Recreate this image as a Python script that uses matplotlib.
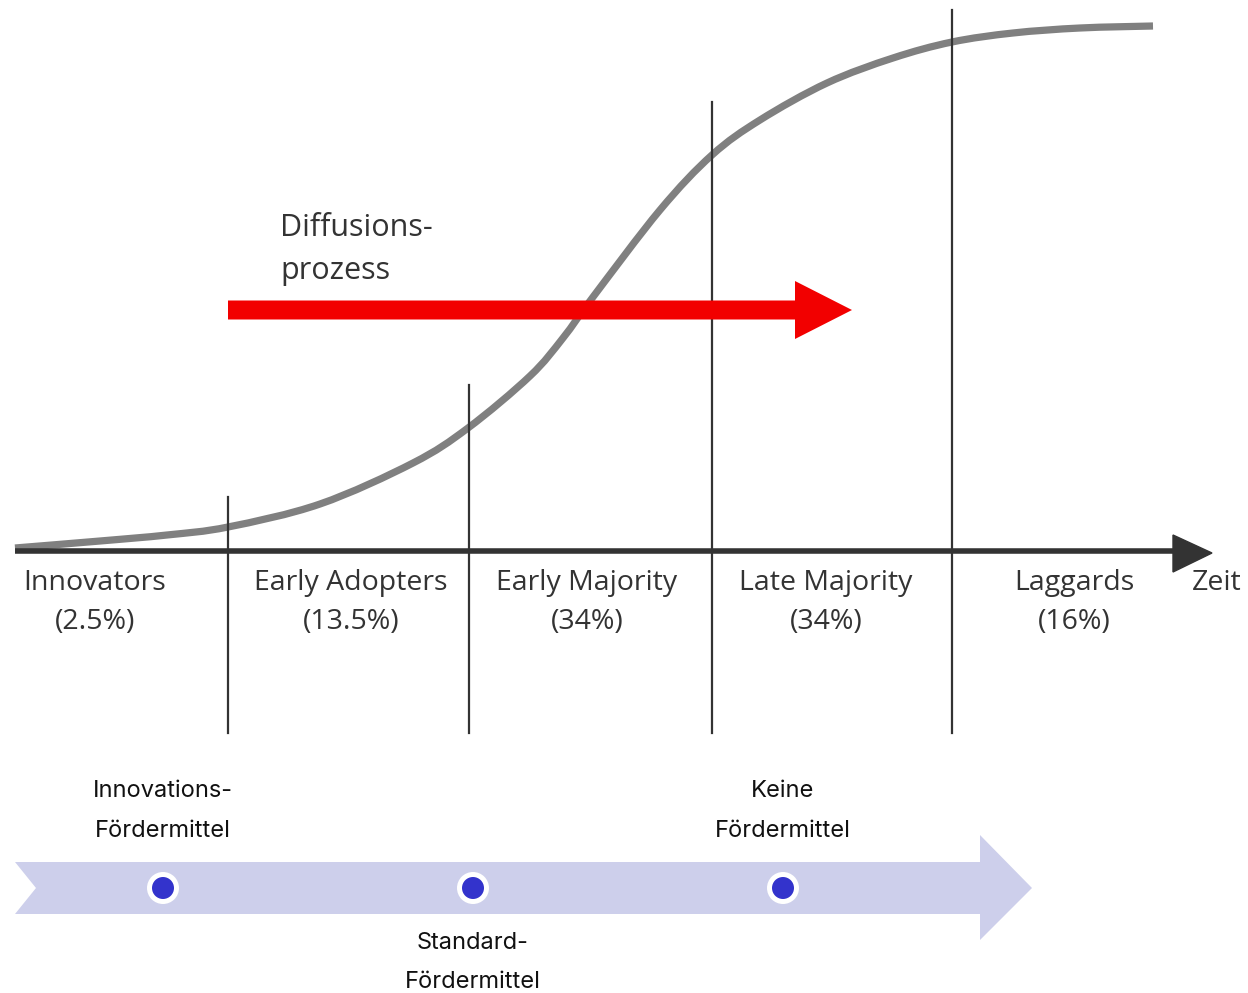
import numpy as np
import matplotlib.pyplot as plt
from matplotlib.patches import Polygon, FancyArrow, Circle, PathPatch
from matplotlib.path import Path

# Adoptionskurve (Pixelkoordinaten)
kurve_x = [15, 100, 167, 228, 320, 413, 468, 530, 563, 593, 660, 712,
           760, 827, 893, 952, 1013, 1080, 1153]
kurve_y = [548, 541, 535, 527, 504, 463, 428, 376, 338, 297, 210, 155,
           120, 83, 58, 42, 33, 28, 26]

# Segmentgrenzen und ihre Oberkanten
grenzen_x = [228, 469, 712, 952]
grenzen_top = [497, 385, 102, 10]

kategorien = ["Innovators", "Early Adopters", "Early Majority", "Late Majority", "Laggards"]
anteile = ["(2.5%)", "(13.5%)", "(34%)", "(34%)", "(16%)"]
kategorie_x = [95, 351, 587, 826, 1074]

foerder_labels = ["Innovations-\nFördermittel", "Standard-\nFördermittel", "Keine\nFördermittel"]
foerder_x = [163, 473, 783]
foerder_oben = [True, False, True]

fig = plt.figure(figsize=(12.48, 9.93), dpi=100)
ax = fig.add_axes([0, 0, 1, 1])
ax.set_xlim(0, 1248)
ax.set_ylim(993, 0)
ax.axis("off")

dunkel = "#333333"
top_font = "Open Sans"
bottom_font = "Inter"

# Zeitachse
ax.plot([15, 1178], [551, 551], color=dunkel, lw=4, solid_capstyle="butt", zorder=3)
ax.add_patch(Polygon([[1173, 535], [1212, 553], [1173, 572]], closed=True,
                     color=dunkel, zorder=3))
ax.text(1217, 583, "Zeit", ha="center", va="center", fontsize=20.5,
        family=top_font, color=dunkel)

# Senkrechte Grenzen
for gx, gt in zip(grenzen_x, grenzen_top):
    ax.plot([gx, gx], [gt, 733], color=dunkel, lw=1.6, zorder=2)

pts = np.column_stack([kurve_x, kurve_y]).astype(float)
verts = [pts[0]]
codes = [Path.MOVETO]
for i in range(len(pts) - 1):
    p0 = pts[max(i - 1, 0)]
    p1 = pts[i]
    p2 = pts[i + 1]
    p3 = pts[min(i + 2, len(pts) - 1)]
    verts += [p1 + (p2 - p0) / 6, p2 - (p3 - p1) / 6, p2]
    codes += [Path.CURVE4] * 3
ax.add_patch(PathPatch(Path(verts, codes), facecolor="none", edgecolor="#808080",
                       lw=5.2, capstyle="butt", zorder=1))

# Kategorie-Beschriftungen
for kx, kat, ant in zip(kategorie_x, kategorien, anteile):
    ax.text(kx, 583, kat, ha="center", va="center", fontsize=20.5,
            family=top_font, color=dunkel)
    ax.text(kx, 622, ant, ha="center", va="center", fontsize=20.5,
            family=top_font, color=dunkel)

# Diffusionsprozess-Pfeil
ax.add_patch(FancyArrow(228, 310, 624, 0, width=19, head_width=58, head_length=57,
                        length_includes_head=True, color="#f20000", lw=0, zorder=4))
ax.text(280, 228, "Diffusions-", ha="left", va="center", fontsize=22,
        family=top_font, color=dunkel)
ax.text(280, 271, "prozess", ha="left", va="center", fontsize=22,
        family=top_font, color=dunkel)

# Fördermittel-Band
band = [[15, 862], [980, 862], [980, 835], [1032, 888], [980, 940],
        [980, 914], [15, 914], [36, 888]]
ax.add_patch(Polygon(band, closed=True, facecolor="#cdcfeb", edgecolor="none"))

for fx, lab, oben in zip(foerder_x, foerder_labels, foerder_oben):
    ax.add_patch(Circle((fx, 888), 16, facecolor="white", edgecolor="none", zorder=5))
    ax.add_patch(Circle((fx, 888), 11, facecolor="#3333cc", edgecolor="none", zorder=6))
    z1, z2 = lab.split("\n")
    y1, y2 = (791, 831) if oben else (943, 982)
    ax.text(fx, y1, z1, ha="center", va="center", fontsize=17,
            family=bottom_font, color="#111111")
    ax.text(fx, y2, z2, ha="center", va="center", fontsize=17,
            family=bottom_font, color="#111111")

fig.savefig("out.png", dpi=100)
